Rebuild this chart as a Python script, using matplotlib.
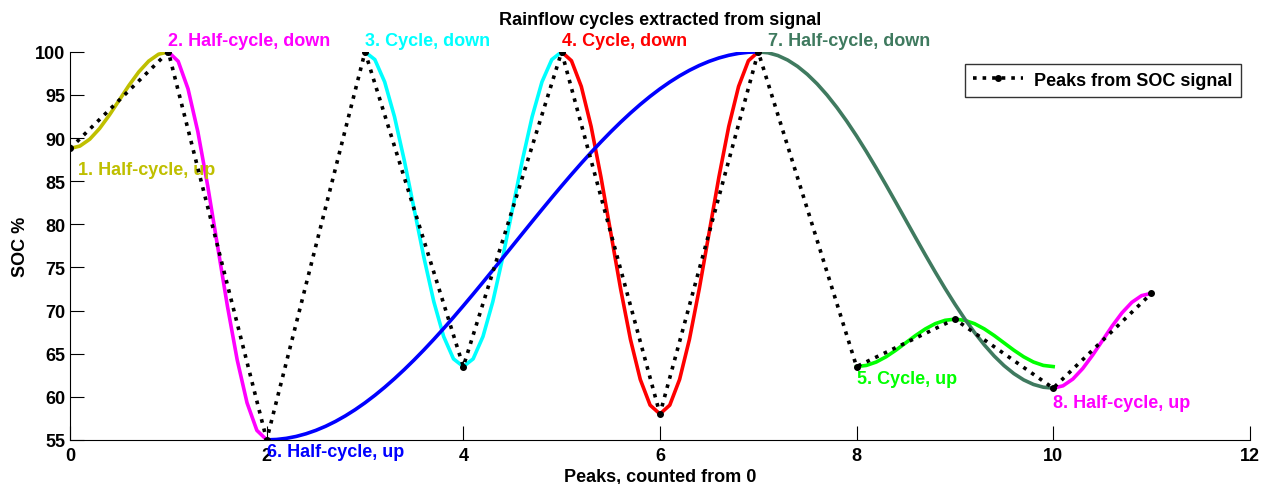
import matplotlib
matplotlib.use("Agg")
import matplotlib.pyplot as plt
import numpy as np

plt.rcParams["font.family"] = ["Liberation Sans", "DejaVu Sans"]
plt.rcParams["font.weight"] = "bold"

# peaks of the SOC signal
peak_idx = [0, 1, 2, 3, 4, 5, 6, 7, 8, 9, 10, 11]
peak_soc = [88.8, 100, 55, 100, 63.5, 100, 58, 100, 63.5, 69, 61, 72]

# rainflow cycles: start/end peak index, start value, turning value
cycle_labels = ["1. Half-cycle, up", "2. Half-cycle, down", "3. Cycle, down",
                "4. Cycle, down", "5. Cycle, up", "6. Half-cycle, up",
                "7. Half-cycle, down", "8. Half-cycle, up"]
cycle_start = [0, 1, 3, 5, 8, 2, 7, 10]
cycle_end = [1, 2, 5, 7, 10, 7, 10, 11]
cycle_from = [88.8, 100, 100, 100, 63.5, 55, 100, 61]
cycle_to = [100, 55, 63.5, 58, 69, 100, 61, 72]
cycle_full = [False, False, True, True, True, False, False, False]
cycle_colors = ["#bfbf00", "#ff00ff", "#00ffff", "#ff0000", "#00ff00",
                "#0000ff", "#3f7a5f", "#ff00ff"]

FS = 13

fig = plt.figure(figsize=(12.74, 4.85), dpi=100)
ax = fig.add_axes([0.055, 0.091, 0.926, 0.8])

# small nudges so labels sit like in the original
nudge = {"1.": (0.08, -1.0), "7.": (0.1, 0.0), "8.": (0.0, -0.3)}

for lab, x0, x1, y0, y1, full, c in zip(cycle_labels, cycle_start, cycle_end,
                                         cycle_from, cycle_to, cycle_full, cycle_colors):
    n = int((x1 - x0) * 10) + 1
    t = np.linspace(0, 1, n)
    if full:
        shape = (1 - np.cos(2 * np.pi * t)) / 2
    else:
        shape = (1 - np.cos(np.pi * t)) / 2
    ax.plot(x0 + (x1 - x0) * t, y0 + (y1 - y0) * shape, color=c, lw=2.6, zorder=2)
    dx, dy = nudge.get(lab[:2], (0.0, 0.0))
    if y1 < y0:
        ax.text(x0 + dx, y0 + 0.3 + dy, lab, color=c, fontsize=FS, fontweight="bold",
                ha="left", va="bottom", clip_on=False)
    else:
        ax.text(x0 + dx, y0 - 0.4 + dy, lab, color=c, fontsize=FS, fontweight="bold",
                ha="left", va="top", clip_on=False)

ax.plot(peak_idx, peak_soc, color="black", ls=":", lw=2.6, marker="o", ms=4,
        label="Peaks from SOC signal", zorder=3)

ax.set_xlim(0, 12)
ax.set_ylim(55, 100)
ax.set_xticks(range(0, 13, 2))
ax.set_yticks(range(55, 101, 5))
ax.spines["top"].set_visible(False)
ax.spines["right"].set_visible(False)
ax.tick_params(direction="in", length=10, labelsize=FS)
ax.tick_params(axis="x", pad=5)
for lbl in ax.get_xticklabels() + ax.get_yticklabels():
    lbl.set_fontweight("bold")

ax.set_xlabel("Peaks, counted from 0", fontsize=FS, fontweight="bold", labelpad=3)
ax.set_ylabel("SOC %", fontsize=FS, fontweight="bold", labelpad=4)
ax.set_title("Rainflow cycles extracted from signal", fontsize=FS,
             fontweight="bold", pad=20)

leg = ax.legend(loc="upper right", bbox_to_anchor=(1.0, 0.993), fancybox=False,
                edgecolor="black", fontsize=FS, handlelength=2.8, borderpad=0.45,
                handletextpad=0.6)
leg.get_frame().set_linewidth(1.0)

fig.savefig("out.png", dpi=100)
